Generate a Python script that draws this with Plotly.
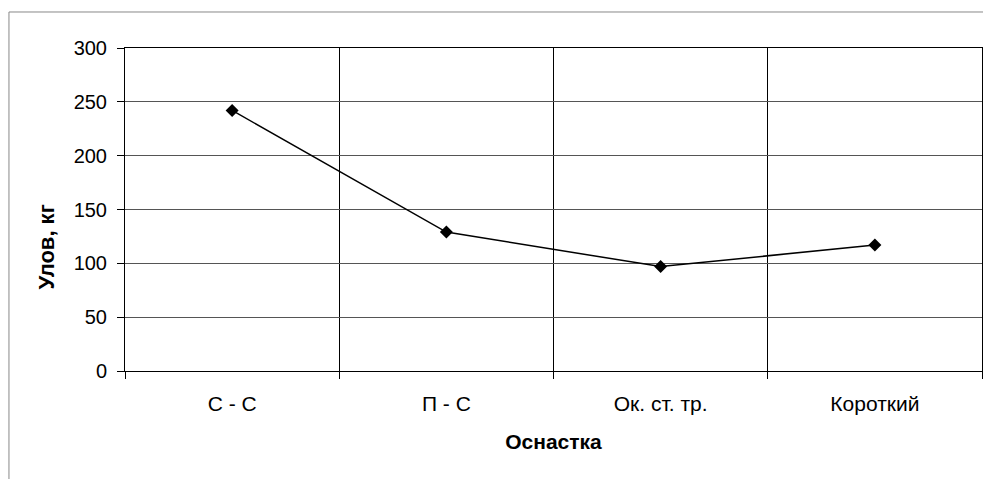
import plotly.graph_objects as go

categories = ["С - С", "П - С", "Ок. ст. тр.", "Короткий"]
catch_kg = [242, 129, 97, 117]
y_ticks = [0, 50, 100, 150, 200, 250, 300]

fig = go.Figure()
fig.add_trace(go.Scatter(
    x=categories, y=catch_kg, mode="lines+markers",
    line=dict(color="black", width=1.5),
    marker=dict(symbol="diamond", size=10, color="black"),
    cliponaxis=False, showlegend=False,
))

font_family = "Liberation Sans, Arial, sans-serif"
fig.update_layout(
    width=983, height=479,
    margin=dict(l=125, r=1, t=48, b=108),
    paper_bgcolor="white", plot_bgcolor="white",
    font=dict(family=font_family, color="black", size=20),
    xaxis=dict(
        type="category", tickson="boundaries", range=[-0.5, len(categories) - 0.5],
        showgrid=True, gridcolor="black", gridwidth=1,
        ticks="outside", ticklen=7, tickcolor="black",
        showline=True, linecolor="black", linewidth=1, mirror=True,
        tickfont=dict(size=21), ticklabelstandoff=14,
        title=dict(text="<b>Оснастка</b>", font=dict(size=21), standoff=20),
    ),
    yaxis=dict(
        range=[0, 300], tickvals=y_ticks,
        showgrid=True, gridcolor="#555555", gridwidth=1,
        ticks="outside", ticklen=7, tickcolor="black",
        showline=True, linecolor="black", linewidth=1, mirror=True,
        zeroline=False,
        tickfont=dict(size=20), ticklabelstandoff=6,
    ),
    annotations=[
        dict(text="<b>Улов, кг</b>", xref="paper", yref="paper", x=-0.0915, y=0.384,
             textangle=-90, showarrow=False, font=dict(size=22),
             xanchor="center", yanchor="middle"),
    ],
    shapes=[
        dict(type="line", xref="paper", yref="paper", x0=-0.1354, x1=1.002, y0=1.1115, y1=1.1115,
             line=dict(color="#888888", width=1)),
        dict(type="line", xref="paper", yref="paper", x0=-0.1354, x1=-0.1354, y0=1.1115, y1=-0.34,
             line=dict(color="#888888", width=1)),
    ],
)

fig.write_html("out.html", config={"displayModeBar": False},
               post_script="document.body.style.margin='0px';")
